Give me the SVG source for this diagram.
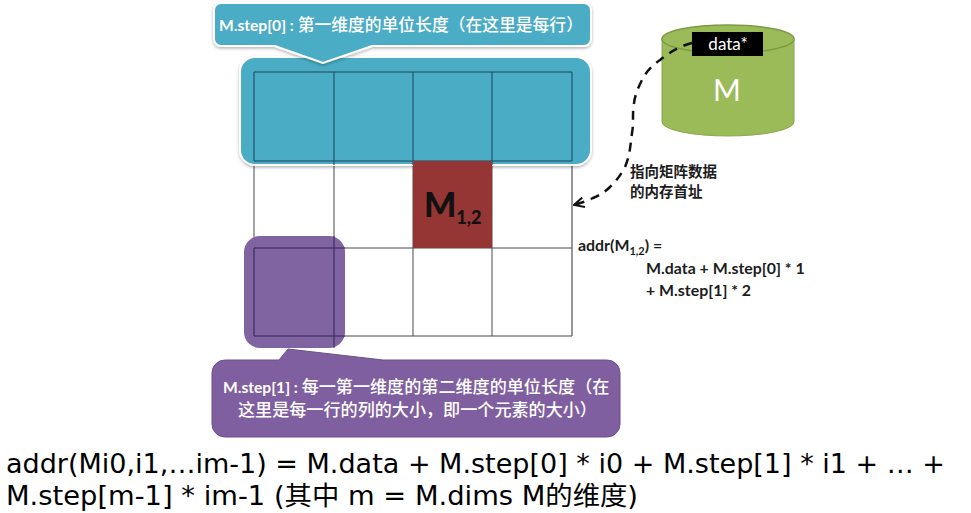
<svg xmlns="http://www.w3.org/2000/svg" width="971" height="513" viewBox="0 0 971 513">
<style>
.cn{font-family:"Lato","Noto Sans CJK SC",sans-serif}
.w{fill:#fff;font-weight:500;font-size:16.8px}
.p{font-size:17.1px}
.l{font-weight:700;font-size:15.6px}
.k{fill:#1c1c1c;font-weight:700;font-size:14.5px}
.e{fill:#1c1c1c;font-weight:700;font-size:15.9px}
.g{stroke:#4a4a4a;stroke-width:1;fill:none}
.b{font-family:"DejaVu Sans","Noto Sans CJK SC",sans-serif;font-size:26px;fill:#000}
</style>
<defs>
<filter id="sh" x="-5%" y="-10%" width="110%" height="125%"><feDropShadow dx="0" dy="1.5" stdDeviation="1.5" flood-color="#000" flood-opacity=".3"/></filter>
<marker id="op" viewBox="0 0 13 12" refX="12" refY="6" markerWidth="13" markerHeight="12" markerUnits="userSpaceOnUse" orient="auto"><path d="M2 1L12 6L2 11" fill="none" stroke="#111" stroke-width="2"/></marker>
</defs>
<rect width="971" height="513" fill="#fff"/>
<g id="grid"><path class="g" d="M254 72H572V336H254ZM334 72V336M413 72V336M492 72V336M254 161H572M254 248H572"/><path d="M572 161V336" stroke="#8a8a8a" fill="none"/></g>
<g id="blue-band"><rect x="240" y="57" width="351" height="108" rx="15" fill="#4bacc6" stroke="#fff" stroke-width="2" filter="url(#sh)"/>
<path d="M254 161V72H572V161M334 72V165M413 72V165M492 72V165M254 161H572" fill="none" stroke="#1f4458"/></g>
<g id="cell-m12"><rect x="413" y="161" width="79" height="87" fill="#963634"/>
<text x="424" y="217" class="cn" font-size="34" font-weight="900" fill="#111">M<tspan font-size="18" dy="7">1,2</tspan></text></g>
<g id="callout-step0"><path d="M221 3H584a7 7 0 0 1 7 7V39a7 7 0 0 1-7 7H372L323 63L275 46H221a7 7 0 0 1-7-7V10a7 7 0 0 1 7-7Z" fill="#4bacc6" stroke="#fff" stroke-width="2" filter="url(#sh)"/>
<text x="219" y="31" class="cn w"><tspan class="l">M.step[0] : </tspan>第一维度的单位长度（在这里是每行）</text></g>
<g id="purple-band"><rect x="244" y="236" width="101" height="112" rx="16" fill="#8064a2"/>
<path d="M254 248H345M254 248V336H345M334 236V348" fill="none" stroke="#2e2350"/></g>
<g id="callout-step1"><path d="M225 360H279L288 349L383 360H607a13 13 0 0 1 13 13V424a13 13 0 0 1-13 13H225a13 13 0 0 1-13-13V373a13 13 0 0 1 13-13Z" fill="#7f5fa0" stroke="#6a4f8a"/>
<text x="223" y="393" class="cn w p"><tspan class="l">M.step[1] : </tspan>每一第一维度的第二维度的单位长度（在</text>
<text x="238" y="416" class="cn w p">这里是每一行的列的大小，即一个元素的大小）</text></g>
<g id="cylinder-m"><path d="M662 39V122A66 14 0 0 0 794 122V39Z" fill="#9bbb59" stroke="#8aa84a"/><ellipse cx="728" cy="39" rx="66" ry="14" fill="#9bbb59" stroke="#7d9a42" stroke-width="1.5"/>
<rect x="692" y="32" width="71" height="24" fill="#000"/>
<text x="728" y="50" text-anchor="middle" font-family="Lato,sans-serif" font-size="17" fill="#fff">data*</text>
<text x="727" y="101" text-anchor="middle" font-family="Lato,sans-serif" font-size="30" fill="#fff">M</text></g>
<g id="connectors"><path d="M692 43C680 46 670 52 660 60C650 67 645 74 642 80C638 88 635 95 634 103C632 115 634 122 632 133C630 148 630 155 625 167C621 175 616 181 610 187C605 192 600 195 593 198C587 201 581 203 574 205" fill="none" stroke="#111" stroke-width="2.5" stroke-dasharray="9 7" marker-end="url(#op)"/></g>
<g id="labels">
<text x="630" y="177" class="cn k">指向矩阵数据</text>
<text x="630" y="197" class="cn k">的内存首址</text>
<text x="578" y="251" class="cn e">addr(M<tspan font-size="11" dy="4">1,2</tspan><tspan dy="-4">) =</tspan></text>
<text x="646" y="274" class="cn e">M.data + M.step[0] * 1</text>
<text x="646" y="296" class="cn e">+ M.step[1] * 2</text>
</g>
<g id="formula">
<text x="6" y="473" class="b" textLength="939" lengthAdjust="spacingAndGlyphs">addr(Mi0,i1,…im-1) = M.data + M.step[0] * i0 + M.step[1] * i1 + … +</text>
<text x="6" y="505" class="b" textLength="632" lengthAdjust="spacingAndGlyphs">M.step[m-1] * im-1 (其中 m = M.dims M的维度)</text>
</g>
</svg>
